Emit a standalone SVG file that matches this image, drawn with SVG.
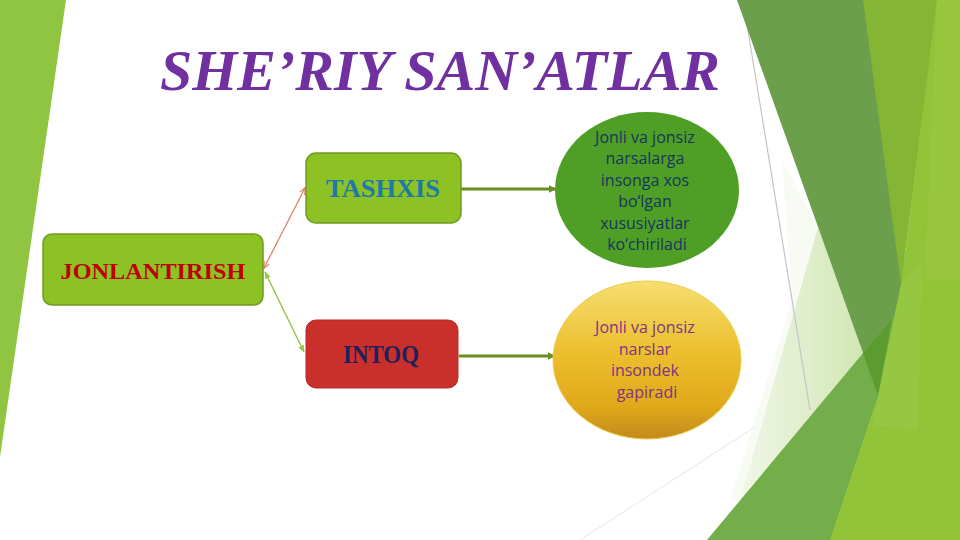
<svg xmlns="http://www.w3.org/2000/svg" width="960" height="540" viewBox="0 0 960 540">
  <defs>
    <style>
      .box { stroke: #6f9a22; stroke-width: 1.5; }
      .boxtext { font-family: "Liberation Serif", "DejaVu Serif", serif; font-weight: bold; text-anchor: middle; }
      .eltext { font-family: "Open Sans", "Liberation Sans", sans-serif; font-size: 16px; text-anchor: middle; }
      .hline { stroke: #6b8e23; stroke-width: 3; fill: none; }
    </style>
    <linearGradient id="gold" x1="0" y1="0" x2="0" y2="1">
      <stop offset="0" stop-color="#f5de70"/>
      <stop offset="0.45" stop-color="#ecbf2e"/>
      <stop offset="0.8" stop-color="#dfa81a"/>
      <stop offset="1" stop-color="#c38a1c"/>
    </linearGradient>
    <linearGradient id="pale" x1="0" y1="0" x2="1" y2="0">
      <stop offset="0" stop-color="#f0f7e8"/>
      <stop offset="1" stop-color="#d2e6b4"/>
    </linearGradient>
    <marker id="arrOrange" viewBox="0 0 10 10" refX="9" refY="5" markerWidth="6" markerHeight="6" orient="auto-start-reverse">
      <path d="M0,1 L10,5 L0,9" fill="none" stroke="#e07b5a" stroke-width="1.5"/>
    </marker>
    <marker id="arrGreen" viewBox="0 0 10 10" refX="9" refY="5" markerWidth="5" markerHeight="5" orient="auto-start-reverse">
      <path d="M0,1 L10,5 L0,9 Z" fill="#9cc450"/>
    </marker>
    <marker id="arrOlive" viewBox="0 0 10 10" refX="8" refY="5" markerWidth="2.5" markerHeight="2.5" orient="auto">
      <path d="M0,0 L10,5 L0,10 Z" fill="#6b8e23"/>
    </marker>
  </defs>

  <!-- background -->
  <rect x="0" y="0" width="960" height="540" fill="#ffffff"/>
  <polygon points="0,0 66,0 0,457" fill="#8fc540"/>

  <!-- right decorative facets -->
  <polygon points="818,227 863,353 740,500" fill="url(#pale)"/>
  <polygon points="782,160 818,227 740,500 730,500 792,300" fill="#f3f9ee" opacity="0.7"/>
  <line x1="743" y1="0" x2="810" y2="410" stroke="#c4c4c4" stroke-width="1.2"/>
  <line x1="580" y1="540" x2="755" y2="427" stroke="#e6e6e6" stroke-width="1"/>
  <polygon points="737,0 870,0 910,300 878,395" fill="#6c9f4b"/>
  <polygon points="863,0 938,0 901,284" fill="#84b534"/>
  <polygon points="707,540 863,353 960,237 960,540" fill="#74ae4a"/>
  <polygon points="863,353 892,319 878,396" fill="#5c9b2f"/>
  <polygon points="937,0 960,0 960,540 830,540 878,396 901,284" fill="#92c43a"/>
  <polygon points="901,284 922,262 918,430 872,425 878,396" fill="#a6d062" opacity="0.22"/>
  <polygon points="937,0 960,0 960,280 925,280" fill="#9fcd48" opacity="0.45"/>

  <!-- title -->
  <text x="440" y="90" font-family="Liberation Serif, DejaVu Serif, serif" font-style="italic" font-weight="bold" font-size="56" fill="#7030a0" text-anchor="middle" textLength="560" lengthAdjust="spacingAndGlyphs">SHE’RIY SAN’ATLAR</text>

  <!-- connectors -->
  <g id="connectors">
    <line x1="264" y1="268" x2="305" y2="188" stroke="#e07b5a" stroke-width="1.2" marker-start="url(#arrOrange)" marker-end="url(#arrOrange)"/>
    <line x1="265" y1="272" x2="304" y2="352" stroke="#9cc450" stroke-width="1.5" marker-start="url(#arrGreen)" marker-end="url(#arrGreen)"/>
    <line class="hline" x1="461" y1="189" x2="555" y2="189" marker-end="url(#arrOlive)"/>
    <line class="hline" x1="459" y1="356" x2="554" y2="356" marker-end="url(#arrOlive)"/>
  </g>

  <!-- nodes -->
  <g id="node-jonlantirish">
    <rect class="box" x="43" y="234" width="220" height="71" rx="9" fill="#8cc224"/>
    <text class="boxtext" x="153" y="279" font-size="24" fill="#c00000" textLength="185" lengthAdjust="spacingAndGlyphs">JONLANTIRISH</text>
  </g>
  <g id="node-tashxis">
    <rect class="box" x="306" y="153" width="155" height="70" rx="10" fill="#8cc224"/>
    <text class="boxtext" x="383" y="197" font-size="25" fill="#1e78a8" textLength="114" lengthAdjust="spacingAndGlyphs">TASHXIS</text>
  </g>
  <g id="node-intoq">
    <rect x="306" y="320" width="152" height="68" rx="10" fill="#c9302c" stroke="#b02a26" stroke-width="1"/>
    <text class="boxtext" x="381" y="363" font-size="25" fill="#1c2257" textLength="76" lengthAdjust="spacingAndGlyphs">INTOQ</text>
  </g>
  <g id="node-green-ellipse">
    <ellipse cx="647" cy="190" rx="92" ry="78" fill="#4f9f26"/>
    <text class="eltext" fill="#16365c">
      <tspan x="647" y="142.5">Jonli va jonsiz</tspan>
      <tspan x="647" y="164">narsalarga</tspan>
      <tspan x="647" y="185.5">insonga xos</tspan>
      <tspan x="647" y="207">bo‘lgan</tspan>
      <tspan x="647" y="228.5">xususiyatlar</tspan>
      <tspan x="647" y="250">ko‘chiriladi</tspan>
    </text>
  </g>
  <g id="node-gold-ellipse">
    <ellipse cx="647" cy="360" rx="94" ry="79" fill="url(#gold)" stroke="#eccd4a" stroke-width="1"/>
    <text class="eltext" fill="#7f3383">
      <tspan x="647" y="333">Jonli va jonsiz</tspan>
      <tspan x="647" y="354.5">narslar</tspan>
      <tspan x="647" y="376">insondek</tspan>
      <tspan x="647" y="397.5">gapiradi</tspan>
    </text>
  </g>
</svg>
